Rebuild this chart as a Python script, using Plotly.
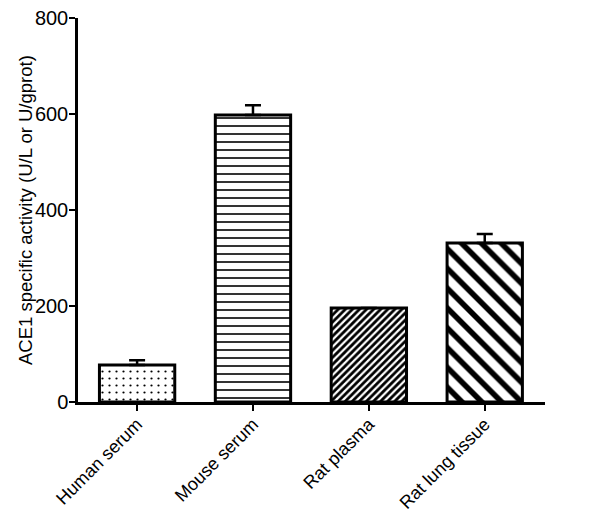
import plotly.graph_objects as go

categories = ["Human serum", "Mouse serum", "Rat plasma", "Rat lung tissue"]
activity = [77, 598, 196, 331]
sem = [10, 20, 0, 19]
patterns = [".", "-", "/", "\\"]
pattern_sizes = [7, 8, 5, 14]
pattern_solidity = [0.08, 0.2, 0.55, 0.4]
y_title = "ACE1 specific activity (U/L or U/gprot)"

fig = go.Figure()

fig.add_trace(go.Bar(
    x=categories,
    y=activity,
    width=0.65,
    marker=dict(
        color="white",
        line=dict(color="black", width=3),
        pattern=dict(
            shape=patterns,
            size=pattern_sizes,
            solidity=pattern_solidity,
            fgcolor="black",
            fgopacity=1,
            bgcolor="white",
            fillmode="replace",
        ),
    ),
    error_y=dict(
        type="data",
        array=sem,
        arrayminus=[0] * len(sem),
        symmetric=False,
        color="black",
        thickness=2.5,
        width=8,
    ),
    showlegend=False,
))

# page body adds an 8px offset, so the figure is a bit smaller than the window
fig.update_layout(
    width=582,
    height=513,
    margin=dict(l=70, r=45, t=10, b=119),
    plot_bgcolor="white",
    paper_bgcolor="white",
    font=dict(family="Liberation Sans, Arial", color="black"),
    xaxis=dict(
        range=[-0.51, 3.52],
        automargin=False,
        showline=True,
        linecolor="black",
        linewidth=2.5,
        ticks="outside",
        ticklen=6,
        tickwidth=2,
        tickcolor="black",
        tickangle=-45,
        tickfont=dict(size=18),
        ticklabelstandoff=-4,
        showgrid=False,
    ),
    yaxis=dict(
        range=[0, 800],
        automargin=False,
        tickvals=[0, 200, 400, 600, 800],
        ticklabeloverflow="allow",
        ticklabelstandoff=-3,
        showline=True,
        linecolor="black",
        linewidth=2.5,
        ticks="outside",
        ticklen=6,
        tickwidth=2,
        tickcolor="black",
        tickfont=dict(size=20),
        showgrid=False,
        zeroline=False,
    ),
    annotations=[
        dict(
            text=y_title,
            textangle=-90,
            x=0,
            y=0.5,
            xref="paper",
            yref="paper",
            xanchor="center",
            yanchor="middle",
            xshift=-53,
            showarrow=False,
            font=dict(size=18.5),
        )
    ],
)

fig.write_html("out.html")
